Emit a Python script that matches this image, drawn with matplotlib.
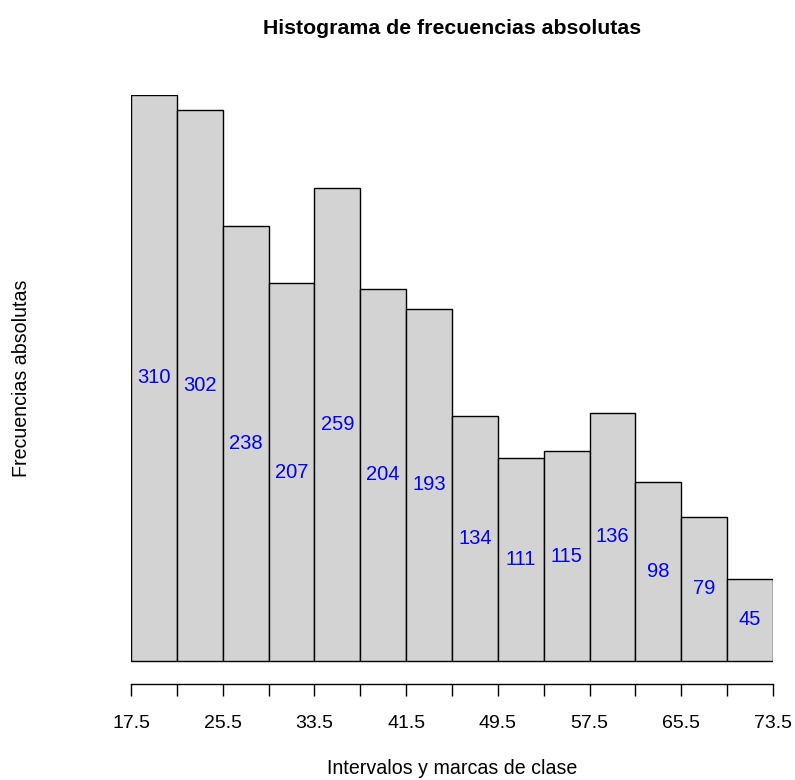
import matplotlib.pyplot as plt
import numpy as np

plt.rcParams['font.family'] = ['Liberation Sans', 'DejaVu Sans']

# class breaks and absolute frequencies
breaks = [17.5, 21.5, 25.5, 29.5, 33.5, 37.5, 41.5, 45.5, 49.5,
          53.5, 57.5, 61.5, 65.5, 69.5, 73.5]
counts = [310, 302, 238, 207, 259, 204, 193, 134, 111, 115, 136, 98, 79, 45]
tick_labels = ["17.5", "", "25.5", "", "33.5", "", "41.5", "", "49.5",
               "", "57.5", "", "65.5", "", "73.5"]

breaks = np.array(breaks)
mids = (breaks[:-1] + breaks[1:]) / 2
widths = np.diff(breaks)

fig = plt.figure(figsize=(7.95, 7.8), dpi=100)
ax = fig.add_axes([131 / 795, 1 - 684 / 780, 642 / 795, 589 / 780])

ax.bar(mids, counts, width=widths, color='#d3d3d3', edgecolor='black', linewidth=1)
for m, c in zip(mids, counts):
    ax.text(m, c / 2, str(c), color='#0000ee', fontsize=14.5, ha='center', va='center')

ax.set_xlim(breaks[0], breaks[-1])
ax.set_ylim(-12.6, 310)

for s in ['top', 'right', 'left']:
    ax.spines[s].set_visible(False)
ax.spines['bottom'].set_linewidth(1)
ax.set_yticks([])
ax.set_xticks(breaks)
ax.set_xticklabels(tick_labels)
ax.tick_params(axis='x', length=8.5, width=1, labelsize=14, pad=14)

fig.text(0.5 + (131 + 642 / 2 - 795 / 2) / 795, 1 - 28 / 780,
         "Histograma de frecuencias absolutas",
         fontsize=15.3, fontweight='bold', ha='center', va='center')
fig.text(452 / 795, 1 - 769 / 780, "Intervalos y marcas de clase",
         fontsize=14.1, ha='center', va='center')
fig.text(22 / 795, 1 - 378 / 780, "Frecuencias absolutas",
         fontsize=14.1, rotation=90, ha='center', va='center')

fig.savefig("out.png", dpi=100)
